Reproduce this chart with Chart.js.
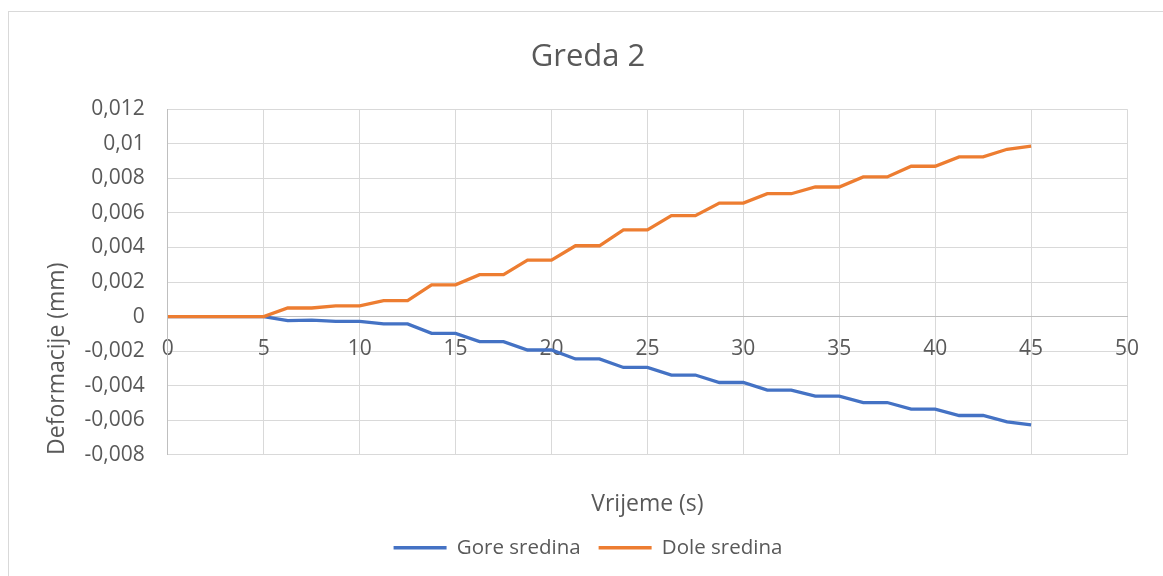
<!DOCTYPE html>
<html>
<head>
<meta charset="utf-8">
<script src="https://cdn.jsdelivr.net/npm/chart.js@4/dist/chart.umd.min.js"></script>
<style>
  html, body { margin: 0; padding: 0; background: #fff; overflow: hidden; }
  #okvir { position: absolute; left: 8px; top: 11px; width: 1200px; height: 600px; border: 1px solid #d9d9d9; }
  #wrap { position: absolute; left: 0; top: 0; width: 1163px; height: 576px; }
</style>
</head>
<body>
<div id="okvir"></div>
<div id="wrap"><canvas id="grafik" width="1163" height="576"></canvas></div>
<script>
// vrijeme (s)
const vrijeme = [0, 1.25, 2.5, 3.75, 5, 6.25, 7.5, 8.75, 10, 11.25, 12.5, 13.75, 15, 16.25, 17.5, 18.75, 20,
  21.25, 22.5, 23.75, 25, 26.25, 27.5, 28.75, 30, 31.25, 32.5, 33.75, 35, 36.25, 37.5, 38.75, 40,
  41.25, 42.5, 43.75, 45]

// deformacije (mm)
const goreSredina = [0, 0, 0, 0, 0, -0.00023, -0.0002, -0.00027, -0.00027, -0.00042, -0.00042, -0.00097, -0.00097,
  -0.00145, -0.00145, -0.00193, -0.00193, -0.00245, -0.00245, -0.00294, -0.00294, -0.00338, -0.00338,
  -0.00381, -0.00381, -0.00425, -0.00425, -0.0046, -0.0046, -0.00497, -0.00497, -0.00535, -0.00535,
  -0.00572, -0.00572, -0.00609, -0.00626]

const doleSredina = [0, 0, 0, 0, 0, 0.0005, 0.0005, 0.00062, 0.00062, 0.00093, 0.00093, 0.00184, 0.00184,
  0.00243, 0.00243, 0.00327, 0.00327, 0.0041, 0.0041, 0.00502, 0.00502, 0.00584, 0.00584,
  0.00657, 0.00657, 0.00711, 0.00711, 0.0075, 0.0075, 0.00808, 0.00808, 0.0087, 0.0087,
  0.00924, 0.00924, 0.00968, 0.00986]

const xOsa = { min: 0, max: 50, korak: 5 }
const yOsa = { min: -0.008, max: 0.012, korak: 0.002 }

const siva = '#595959'
const font = 'Open Sans'

function tocke(ys) {
  return vrijeme.map((x, i) => ({ x: x, y: ys[i] }))
}

const ctx = document.getElementById('grafik').getContext('2d')
const grafik = new Chart(ctx, {
  type: 'line',
  data: {
    datasets: [
      {
        label: 'Gore sredina',
        data: tocke(goreSredina),
        borderColor: '#4472C4',
        backgroundColor: '#4472C4',
        borderWidth: 3.3,
        pointRadius: 0,
        tension: 0,
        order: 1
      },
      {
        label: 'Dole sredina',
        data: tocke(doleSredina),
        borderColor: '#ED7D31',
        backgroundColor: '#ED7D31',
        borderWidth: 3.3,
        pointRadius: 0,
        tension: 0,
        order: 0
      }
    ]
  },
  options: {
    responsive: false,
    animation: false,
    layout: { padding: { left: 49, right: 36, top: 0, bottom: 8 } },
    plugins: {
      title: {
        display: true,
        text: 'Greda 2',
        color: siva,
        font: { family: font, size: 31, weight: 'normal' },
        padding: { top: 39, bottom: 33 }
      },
      subtitle: {
        display: true,
        text: 'Vrijeme (s)',
        position: 'bottom',
        fullSize: false,
        weight: 500,
        color: siva,
        font: { family: font, size: 23, weight: 'normal' },
        padding: { top: 36, bottom: 1 }
      },
      legend: {
        display: true,
        position: 'bottom',
        labels: {
          usePointStyle: true,
          pointStyle: 'line',
          pointStyleWidth: 53,
          color: siva,
          font: { family: font, size: 20.5 },
          padding: 18,
          sort: (a, b) => a.datasetIndex - b.datasetIndex
        }
      },
      tooltip: { enabled: false }
    },
    scales: {
      x: {
        type: 'linear',
        position: { y: 0 },
        min: xOsa.min,
        max: xOsa.max,
        ticks: {
          stepSize: xOsa.korak,
          color: siva,
          font: { family: font, size: 21 },
          padding: 20,
          maxRotation: 0
        },
        grid: { color: '#d9d9d9', drawTicks: false },
        border: { color: '#bfbfbf' }
      },
      y: {
        type: 'linear',
        position: 'left',
        min: yOsa.min,
        max: yOsa.max,
        ticks: {
          stepSize: yOsa.korak,
          color: siva,
          font: { family: font, size: 21 },
          padding: 23,
          callback: (v) => String(Number(v.toFixed(3))).replace('.', ',')
        },
        grid: { color: '#d9d9d9', drawTicks: false },
        border: { color: '#bfbfbf' },
        title: {
          display: true,
          text: 'Deformacije (mm)',
          align: 'start',
          color: siva,
          font: { family: font, size: 23 },
          padding: { top: -5, bottom: -10 }
        }
      }
    }
  }
})
</script>
</body>
</html>
